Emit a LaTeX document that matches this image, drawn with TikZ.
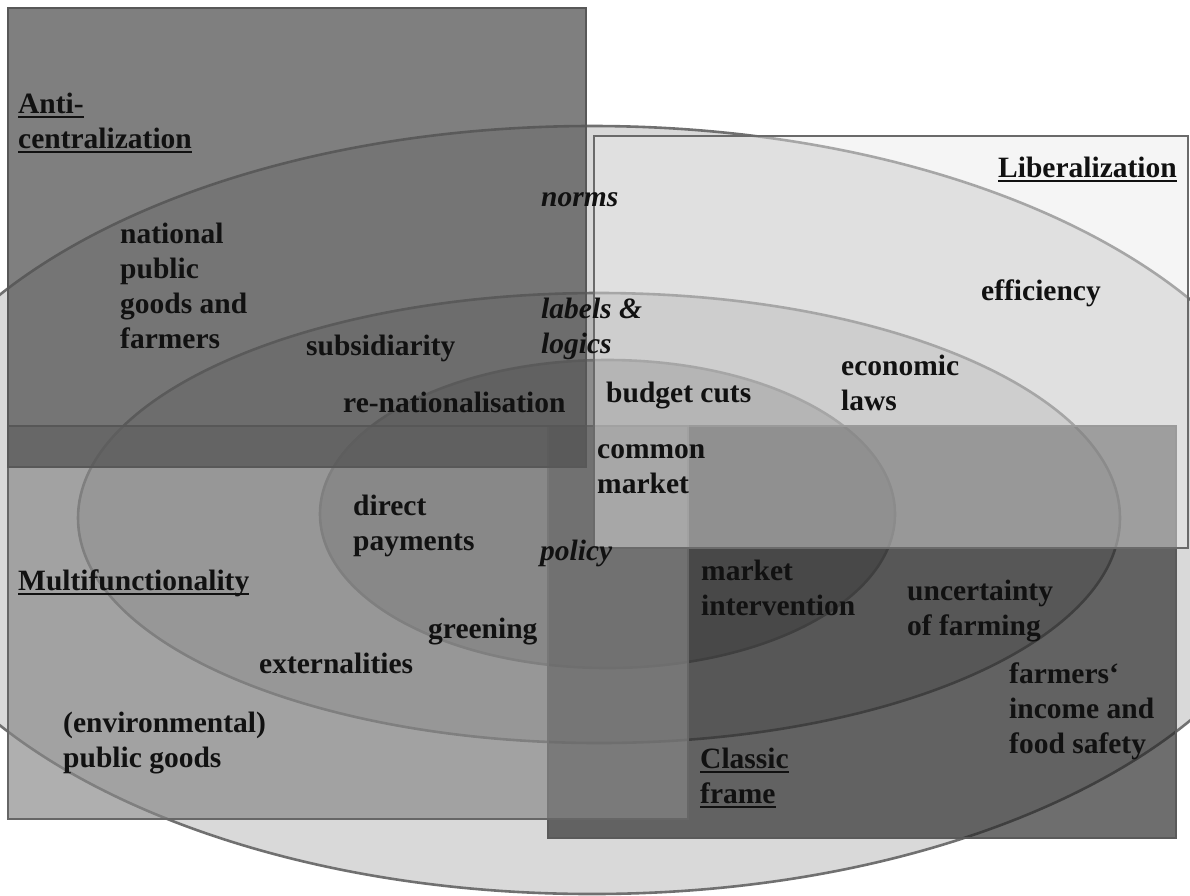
\documentclass[tikz,border=0pt]{standalone}
\usepackage{fontspec}
\setmainfont{Liberation Serif}
\definecolor{ringA}{RGB}{217,217,217}
\definecolor{ringB}{RGB}{184,184,184}
\definecolor{ringC}{RGB}{140,140,140}
\definecolor{ringline}{RGB}{112,112,112}
\definecolor{antifill}{RGB}{83,83,83}
\definecolor{multifill}{RGB}{135,135,135}
\definecolor{classicfill}{RGB}{40,40,40}
\definecolor{libfill}{RGB}{233,233,233}
\definecolor{antiline}{RGB}{88,88,88}
\definecolor{multiline}{RGB}{102,102,102}
\definecolor{classicline}{RGB}{90,90,90}
\definecolor{libline}{RGB}{106,106,106}
\definecolor{txt}{RGB}{17,17,17}
\newcommand{\lblfont}{\fontsize{29.5}{35}\selectfont\bfseries}
\newcommand{\lns}[1]{\begin{tabular}[t]{@{}l@{}}#1\end{tabular}}
\newcommand{\ulx}[1]{\setbox0\hbox{#1}\rlap{\rule[-4.5pt]{\wd0}{1.8pt}}\box0}
\tikzset{
  ring/.style={draw=ringline, line width=2.6pt},
  frame/.style={line width=2.6pt},
  lbl/.style={anchor=base west, inner sep=0pt, font=\lblfont, text=txt},
}
\begin{document}
\begin{tikzpicture}[x=1pt,y=-1pt]
\useasboundingbox (0,0) rectangle (1190,895);
\clip (0,0) rectangle (1190,895);
\fill[white] (0,0) rectangle (1190,895);
% rings
\draw[ring, fill=ringA] (592,510) ellipse [x radius=715, y radius=384];
\draw[ring, fill=ringB] (599,518) ellipse [x radius=521, y radius=225];
\draw[ring, fill=ringC] (607.5,514) ellipse [x radius=287.5, y radius=154];
% frames
\draw[frame, draw=classicline, fill=classicfill, fill opacity=0.67] (548,426) rectangle (1176,838);
\draw[frame, draw=multiline, fill=multifill, fill opacity=0.66] (8,426) rectangle (688,819);
\draw[frame, draw=antiline, fill=antifill, fill opacity=0.74] (8,8) rectangle (586,467);
\draw[frame, draw=libline, fill=libfill, fill opacity=0.45] (594,136) rectangle (1188,548);
% labels
\node[lbl] (anti) at (18,113) {\lns{\ulx{Anti-}\\ \ulx{centralization}}};
\node[lbl, anchor=base east] (lib) at (1177,177) {\ulx{Liberalization}};
\node[lbl] (multi) at (18,590) {\ulx{Multifunctionality}};
\node[lbl] (classic) at (700,768) {\lns{\ulx{Classic}\\ \ulx{frame}}};
\node[lbl] (norms) at (541,206) {\itshape norms};
\node[lbl] (labels) at (541,318) {\itshape\lns{labels \&\\ logics}};
\node[lbl] (policy) at (540,560) {\itshape policy};
\node[lbl] (natpg) at (120,243) {\lns{national\\ public\\ goods and\\ farmers}};
\node[lbl] (eff) at (981,300) {efficiency};
\node[lbl] (subs) at (306,355) {subsidiarity};
\node[lbl] (econ) at (841,375) {\lns{economic\\ laws}};
\node[lbl] (renat) at (343,412) {re-nationalisation};
\node[lbl] (budget) at (606,402) {budget cuts};
\node[lbl] (common) at (597,458) {\lns{common\\ market}};
\node[lbl] (direct) at (353,515) {\lns{direct\\ payments}};
\node[lbl] (mint) at (701,580) {\lns{market\\ intervention}};
\node[lbl] (uncert) at (907,600) {\lns{uncertainty\\ of farming}};
\node[lbl] (green) at (428,638) {greening};
\node[lbl] (ext) at (259,673) {externalities};
\node[lbl] (income) at (1009,683) {\lns{farmers‘\\ income and\\ food safety}};
\node[lbl] (envpg) at (63,732) {\lns{(environmental)\\ public goods}};
\end{tikzpicture}
\end{document}
